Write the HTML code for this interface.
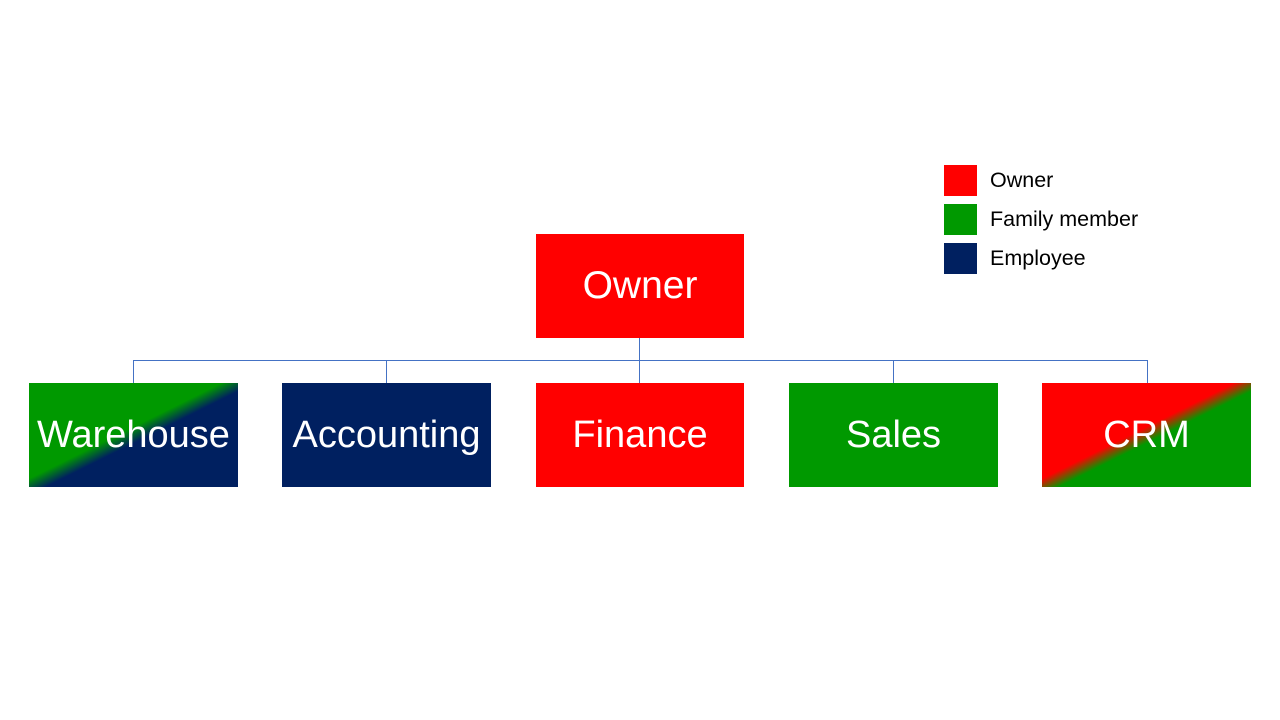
<!DOCTYPE html>
<html><head><style>
body{margin:0;width:1280px;height:720px;background:#fff;position:relative;overflow:hidden;font-family:"Liberation Sans",sans-serif}
.b{position:absolute;width:209px;height:104px;top:383px;color:#fff;font-size:38px;display:flex;align-items:center;justify-content:center;white-space:nowrap}
.l{position:absolute;background:#4472C4}
.sq{position:absolute;left:944px;width:33px;height:31px}
.t{position:absolute;left:990px;font-size:21.5px;color:#000}
</style></head><body>
<div class="b" style="left:536px;top:234px;width:208px;background:#f00;font-size:39px">Owner</div>
<div class="l" style="left:639px;top:338px;width:1px;height:22px"></div>
<div class="l" style="left:133px;top:360px;width:1015px;height:1px"></div>
<div class="l" style="left:133px;top:360px;width:1px;height:23px"></div>
<div class="l" style="left:386px;top:360px;width:1px;height:23px"></div>
<div class="l" style="left:639px;top:360px;width:1px;height:23px"></div>
<div class="l" style="left:893px;top:360px;width:1px;height:23px"></div>
<div class="l" style="left:1147px;top:360px;width:1px;height:23px"></div>
<div class="b" style="left:29px;background:linear-gradient(to bottom right,#009900 46%,#002060 54%)">Warehouse</div>
<div class="b" style="left:282px;background:#002060">Accounting</div>
<div class="b" style="left:536px;width:208px;background:#f00">Finance</div>
<div class="b" style="left:789px;background:#009900">Sales</div>
<div class="b" style="left:1042px;background:linear-gradient(to bottom right,#f00 46%,#009900 54%)">CRM</div>
<div class="sq" style="top:165px;background:#f00"></div>
<div class="sq" style="top:204px;background:#009900"></div>
<div class="sq" style="top:243px;background:#002060"></div>
<div class="t" style="top:168px">Owner</div>
<div class="t" style="top:207px">Family member</div>
<div class="t" style="top:246px">Employee</div>
</body></html>
